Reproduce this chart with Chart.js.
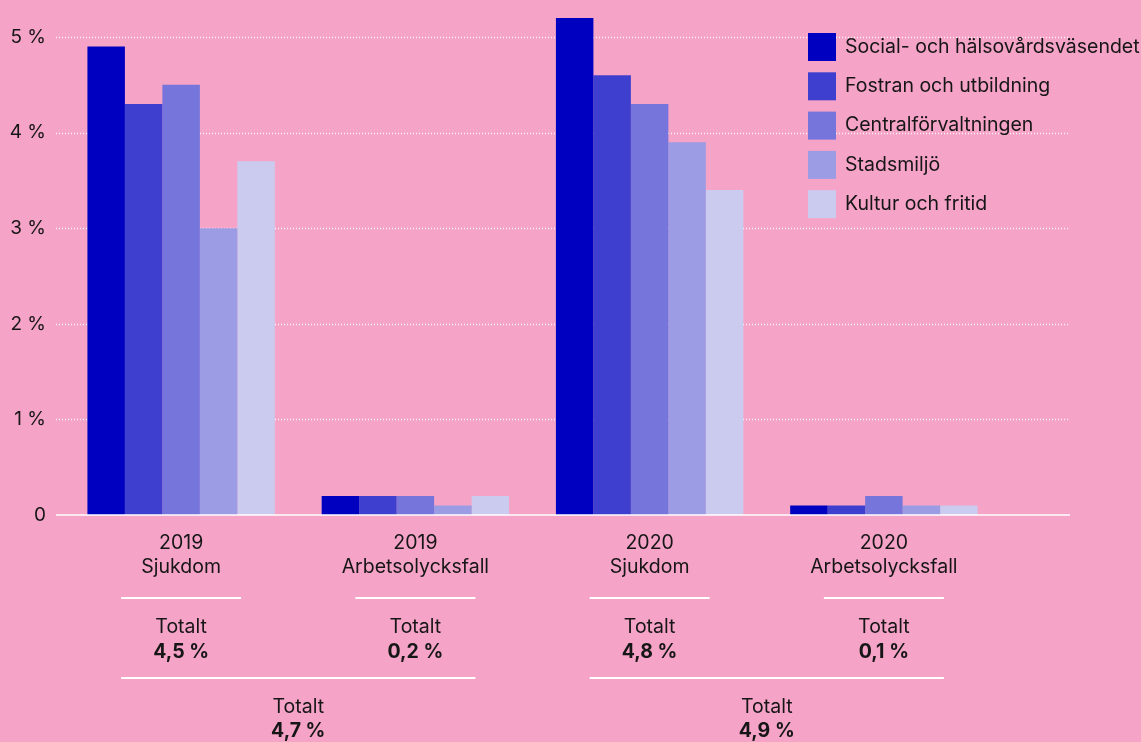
<!DOCTYPE html>
<html>
<head>
<meta charset="utf-8">
<script src="https://cdn.jsdelivr.net/npm/chart.js@4"></script>
<style>
  html, body { margin: 0; padding: 0; background: #f5a3c7; }
  #wrap { width: 1141px; height: 742px; position: relative; }
</style>
</head>
<body>
<div id="wrap"><canvas id="sickChart"></canvas></div>
<script>
// Sjukfrånvaro per sektor, andel av arbetstiden (%)
var categories = [["2019", "Sjukdom"], ["2019", "Arbetsolycksfall"], ["2020", "Sjukdom"], ["2020", "Arbetsolycksfall"]];
var sectors = ["Social- och hälsovårdsväsendet", "Fostran och utbildning", "Centralförvaltningen", "Stadsmiljö", "Kultur och fritid"];
var socialValues = [4.9, 0.2, 5.2, 0.1];
var fostranValues = [4.3, 0.2, 4.6, 0.1];
var centralValues = [4.5, 0.2, 4.3, 0.2];
var stadsmiljoValues = [3.0, 0.1, 3.9, 0.1];
var kulturValues = [3.7, 0.2, 3.4, 0.1];
var groupTotals = [4.5, 0.2, 4.8, 0.1];
var yearTotals = [4.7, 4.9];
var yTicks = [0, 1, 2, 3, 4, 5];

var colors = ["#0000c0", "#3f3fcf", "#7575dc", "#9c9ce5", "#cbcbf0"];
var textColor = "#161616";
var fontFamily = "Inter, 'Noto Sans', sans-serif";
var fontSize = 19.5;

function fmt(v) {
    return v.toFixed(1).replace(".", ",") + " %";
}

var seriesValues = [socialValues, fostranValues, centralValues, stadsmiljoValues, kulturValues];
var datasets = sectors.map(function(name, i) {
    return {
        label: name,
        data: seriesValues[i],
        backgroundColor: colors[i],
        borderWidth: 0,
        categoryPercentage: 0.8,
        barPercentage: 1.0,
        clip: false  // tallest bar goes above the 5 % line
    };
});

// dotted grid + solid zero line, drawn wider than the plot area
var gridPlugin = {
    id: "gridLines",
    beforeDatasetsDraw: function(chart) {
        var ctx = chart.ctx;
        var y = chart.scales.y;
        ctx.save();
        ctx.strokeStyle = "rgba(255,255,255,0.9)";
        ctx.lineWidth = 1.5;
        ctx.setLineDash([1, 2]);
        for (var v = 1; v <= 5; v++) {
            var py = Math.round(y.getPixelForValue(v)) + 0.5;
            ctx.beginPath();
            ctx.moveTo(56, py);
            ctx.lineTo(1070, py);
            ctx.stroke();
        }
        ctx.restore();
    },
    afterDatasetsDraw: function(chart) {
        var ctx = chart.ctx;
        var py = chart.scales.y.getPixelForValue(0);
        ctx.save();
        ctx.strokeStyle = "#ffffff";
        ctx.lineWidth = 1.5;
        ctx.beginPath();
        ctx.moveTo(56, py);
        ctx.lineTo(1070, py);
        ctx.stroke();
        ctx.restore();
    }
};

var legendPlugin = {
    id: "sideLegend",
    afterDraw: function(chart) {
        var ctx = chart.ctx;
        ctx.save();
        ctx.font = fontSize + "px " + fontFamily;
        ctx.textBaseline = "middle";
        ctx.textAlign = "left";
        chart.data.datasets.forEach(function(ds, i) {
            var top = 33 + i * 39.3;
            ctx.fillStyle = ds.backgroundColor;
            ctx.fillRect(808, top, 28, 28);
            ctx.fillStyle = textColor;
            ctx.fillText(ds.label, 845, top + 14);
        });
        ctx.restore();
    }
};

// totals under each category and under each year
var totalsPlugin = {
    id: "totals",
    afterDraw: function(chart) {
        var ctx = chart.ctx;
        var x = chart.scales.x;
        ctx.save();
        ctx.strokeStyle = "#ffffff";
        ctx.lineWidth = 2;
        ctx.textAlign = "center";
        ctx.textBaseline = "middle";
        ctx.fillStyle = textColor;
        var centers = categories.map(function(c, i) { return x.getPixelForValue(i); });
        centers.forEach(function(cx, i) {
            ctx.beginPath();
            ctx.moveTo(cx - 60, 598);
            ctx.lineTo(cx + 60, 598);
            ctx.stroke();
            ctx.font = fontSize + "px " + fontFamily;
            ctx.fillText("Totalt", cx, 627);
            ctx.font = "bold " + fontSize + "px " + fontFamily;
            ctx.fillText(fmt(groupTotals[i]), cx, 652);
        });
        yearTotals.forEach(function(t, j) {
            var x0 = centers[j * 2] - 60;
            var x1 = centers[j * 2 + 1] + 60;
            var mid = (x0 + x1) / 2;
            ctx.beginPath();
            ctx.moveTo(x0, 678);
            ctx.lineTo(x1, 678);
            ctx.stroke();
            ctx.font = fontSize + "px " + fontFamily;
            ctx.fillText("Totalt", mid, 707);
            ctx.font = "bold " + fontSize + "px " + fontFamily;
            ctx.fillText(fmt(t), mid, 731);
        });
        ctx.restore();
    }
};

new Chart(document.getElementById("sickChart"), {
    type: "bar",
    data: {
        labels: categories,
        datasets: datasets
    },
    options: {
        responsive: true,
        maintainAspectRatio: false,
        animation: false,
        layout: {
            padding: { top: 3, right: 140, bottom: 0, left: 0 }
        },
        plugins: {
            legend: { display: false },
            tooltip: { enabled: false }
        },
        scales: {
            x: {
                grid: { display: false, drawTicks: false },
                border: { display: false },
                ticks: {
                    color: textColor,
                    padding: 16,
                    maxRotation: 0,
                    font: { family: fontFamily, size: fontSize, lineHeight: 1.23 }
                },
                afterFit: function(scale) { scale.height = 227; }
            },
            y: {
                min: 0,
                max: 5.08,
                grid: { display: false, drawTicks: false },
                border: { display: false },
                afterBuildTicks: function(scale) {
                    scale.ticks = yTicks.map(function(v) { return { value: v }; });
                },
                ticks: {
                    color: textColor,
                    padding: 18,
                    font: { family: fontFamily, size: 19 },
                    callback: function(value) {
                        return value === 0 ? "0" : value + " %";
                    }
                },
                afterFit: function(scale) { scale.width = 64; }
            }
        }
    },
    plugins: [gridPlugin, legendPlugin, totalsPlugin]
});
</script>
</body>
</html>
